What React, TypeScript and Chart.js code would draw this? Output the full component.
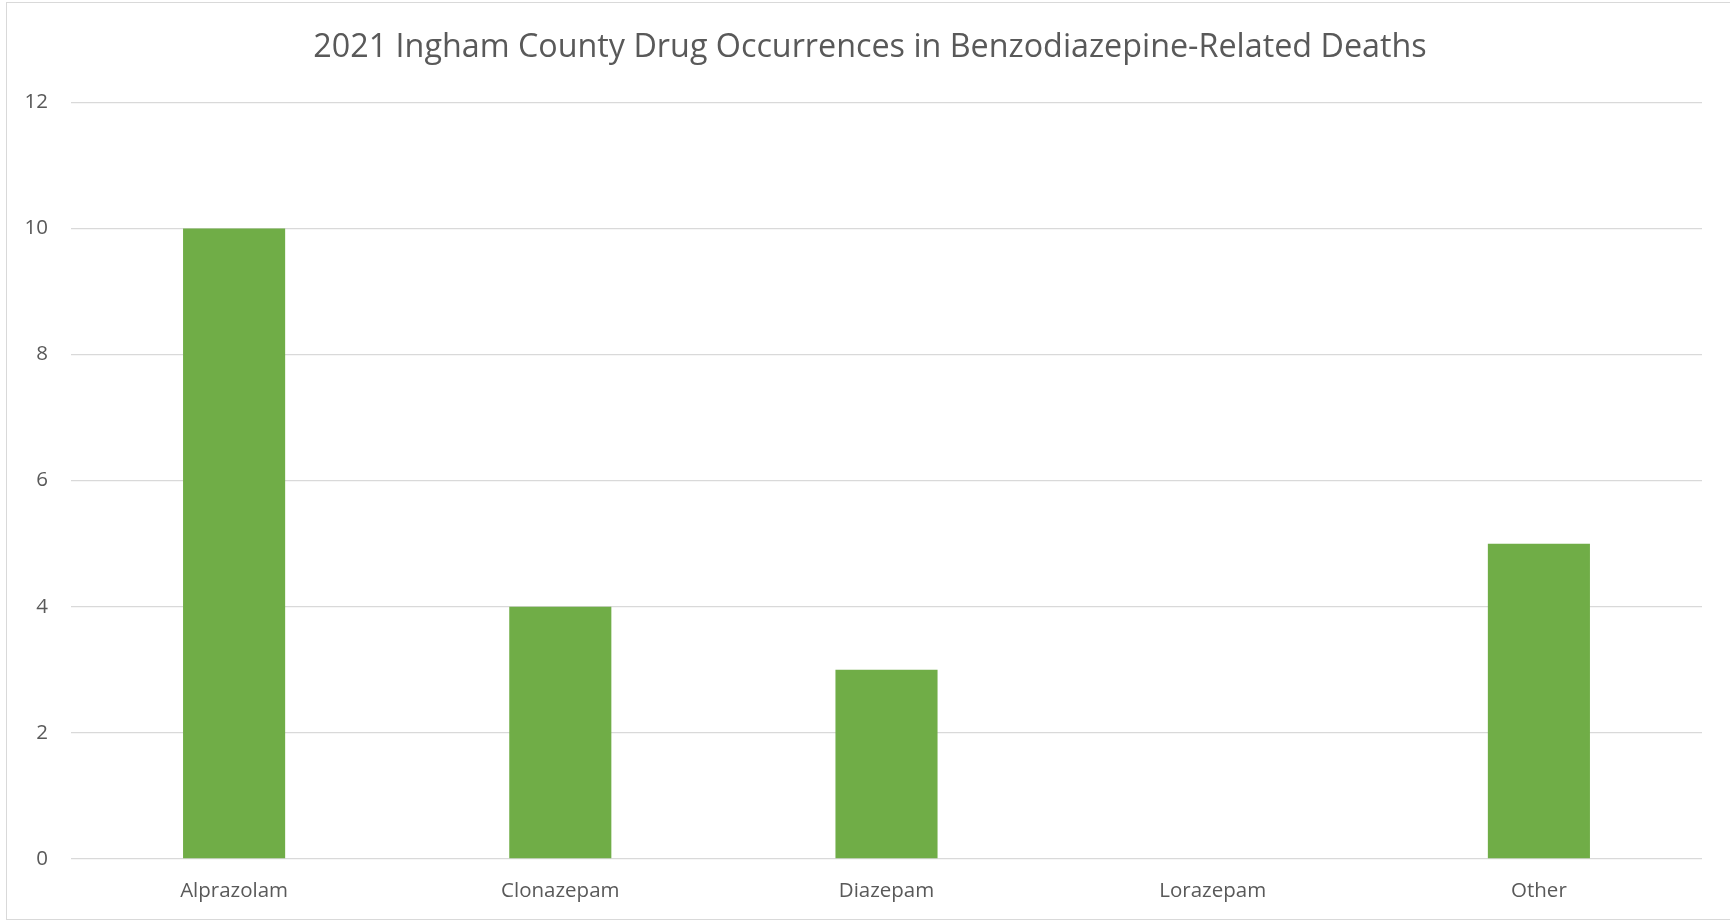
import React, { useEffect, useRef } from "react";
import { Chart, registerables } from "chart.js";

Chart.register(...registerables);

const title = "2021 Ingham County Drug Occurrences in Benzodiazepine-Related Deaths";
const categories = ["Alprazolam", "Clonazepam", "Diazepam", "Lorazepam", "Other"];
const occurrences = [10, 4, 3, 0, 5];
const yMin = 0;
const yMax = 12;
const yStep = 2;

const FONT = "'Open Sans', sans-serif";
const TEXT = "#595959";
const GRID = "#d9d9d9";
const BAR = "#70ad47";

const titleShift = {
  id: "titleShift",
  afterLayout(chart: any) {
    if (chart.titleBlock) {
      chart.titleBlock.left = 38;
    }
  },
};

export default function App() {
  const ref = useRef<HTMLCanvasElement | null>(null);
  useEffect(() => {
    if (!ref.current) return;
    const chart = new Chart(ref.current, {
      type: "bar",
      data: {
        labels: categories,
        datasets: [
          {
            label: "Occurrences",
            data: occurrences,
            backgroundColor: BAR,
            borderWidth: 0,
            barPercentage: 0.313,
            categoryPercentage: 1,
          },
        ],
      },
      plugins: [titleShift],
      options: {
        animation: false,
        responsive: false,
        maintainAspectRatio: false,
        layout: { padding: { left: 0, right: 28, top: 0, bottom: 0 } },
        plugins: {
          legend: { display: false },
          tooltip: { enabled: false },
          title: {
            display: true,
            text: title,
            color: TEXT,
            font: { family: FONT, size: 32.3, weight: "normal", lineHeight: 1.2 },
            padding: { top: 28, bottom: 35.5 },
          },
        },
        scales: {
          x: {
            grid: { display: false, drawTicks: false },
            border: { display: false },
            ticks: {
              color: TEXT,
              font: { family: FONT, size: 20.5 },
              padding: 19.5,
              maxRotation: 0,
            },
            afterFit: (s: any) => {
              s.height = 62;
            },
          },
          y: {
            min: yMin,
            max: yMax,
            ticks: {
              stepSize: yStep,
              color: TEXT,
              font: { family: FONT, size: 20.5 },
              padding: 23,
            },
            grid: { color: GRID, lineWidth: 1.3, drawTicks: false },
            border: { display: false },
            afterFit: (s: any) => {
              s.width = 71;
            },
          },
        },
      },
    });
    return () => chart.destroy();
  }, []);

  return (
    <div
      style={{
        position: "fixed",
        left: 0,
        top: 0,
        width: 1730,
        height: 921,
        overflow: "hidden",
        background: "#ffffff",
      }}
    >
      <div
        style={{
          position: "absolute",
          left: 6,
          top: 2,
          width: 1760,
          height: 916,
          border: "1.5px solid #d9d9d9",
        }}
      />
      <canvas
        ref={ref}
        width={1730}
        height={921}
        style={{ position: "absolute", left: 0, top: 0, width: 1730, height: 921 }}
      />
    </div>
  );
}
